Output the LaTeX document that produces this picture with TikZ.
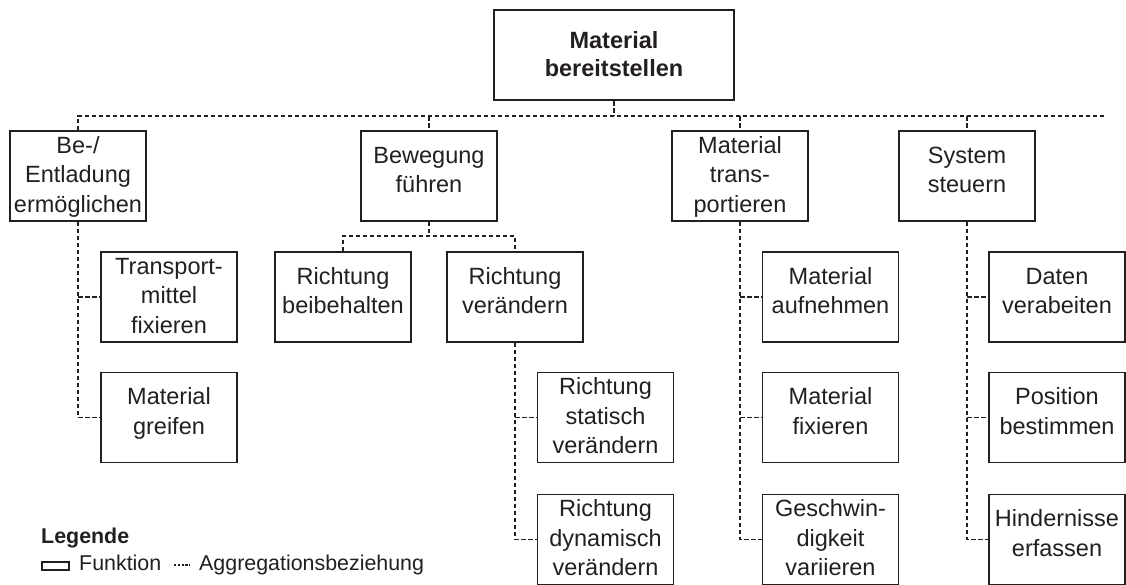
\documentclass[tikz,border=0pt]{standalone}
\usepackage{fontspec}
\setmainfont{Liberation Sans}
\definecolor{ink}{HTML}{231F20}
% text block of a function box: fixed size, text hung from the top;
% the optional argument is the depth of the first baseline below the top edge
\newcommand\boxtext[2][32pt]{\parbox[c][90pt][t]{136pt}{\centering\fontsize{23.5pt}{29.5pt}\selectfont\rule{0pt}{#1}#2\par}}

\begin{document}
\begin{tikzpicture}[x=1pt,y=-1pt,
  fn/.style={draw=ink, line width=1.3pt, inner sep=0pt, text=ink},
  rootfn/.style={draw=ink, line width=2pt, inner sep=0pt, text=ink},
  agg/.style={draw=ink, line width=1.6pt, dash pattern=on 4.6pt off 2.4pt},
  legtext/.style={anchor=base west, inner sep=0pt, text=ink, font=\fontsize{21.4pt}{25pt}\selectfont}]
\useasboundingbox (0,0) rectangle (1126,584);

% main function
\node[rootfn] (root) at (614,55)
  {\parbox[c][90pt][t]{240pt}{\centering\bfseries\fontsize{23.5pt}{28.5pt}\selectfont\rule{0pt}{38pt}Material\\bereitstellen\par}};

% sub-functions, first level
\node[fn] (be)  at (78,176)  {\boxtext[22pt]{Be-/\\Entladung\\ermöglichen}};
\node[fn] (bew) at (429,176) {\boxtext{Bewegung\\führen}};
\node[fn] (mt)  at (740,176) {\boxtext[22pt]{Material\\trans-\\portieren}};
\node[fn] (sys) at (967,176) {\boxtext{System\\steuern}};

% second level
\node[fn] (tr) at (169,297)   {\boxtext[22pt]{Transport-\\mittel\\fixieren}};
\node[fn] (gr) at (169,417.5) {\boxtext{Material\\greifen}};
\node[fn] (rb) at (343,297)   {\boxtext{Richtung\\beibehalten}};
\node[fn] (rv) at (515,297)   {\boxtext{Richtung\\verändern}};
\node[fn] (rs) at (605.5,417.5) {\boxtext[22pt]{Richtung\\statisch\\verändern}};
\node[fn] (rd) at (605.5,539.5) {\boxtext[22pt]{Richtung\\dynamisch\\verändern}};
\node[fn] (ma) at (830.5,297)   {\boxtext{Material\\aufnehmen}};
\node[fn] (mf) at (830.5,417.5) {\boxtext{Material\\fixieren}};
\node[fn] (gv) at (830.5,539.5) {\boxtext[22pt]{Geschwin-\\digkeit\\variieren}};
\node[fn] (dv) at (1057,297)   {\boxtext{Daten\\verabeiten}};
\node[fn] (pb) at (1057,417.5) {\boxtext{Position\\bestimmen}};
\node[fn] (he) at (1057,539.5) {\boxtext{Hindernisse\\erfassen}};

% aggregation bus under the main function
\coordinate (busend) at (1106,116);
\draw[agg] (be.north) |- (busend);
\draw[agg] (root.south) -- (root.south |- busend);
\draw[agg] (bew.north |- busend) -- (bew.north);
\draw[agg] (mt.north |- busend) -- (mt.north);
\draw[agg] (sys.north |- busend) -- (sys.north);

% Be-/Entladung branch
\draw[agg] (be.south) |- (gr.west);
\draw[agg] (be.south |- tr.west) -- (tr.west);

% Bewegung branch
\coordinate (fork) at (429,236);
\draw[agg] (bew.south) -- (fork);
\draw[agg] (rb.north) |- (fork) -| (rv.north);
\draw[agg] (rv.south) |- (rd.west);
\draw[agg] (rv.south |- rs.west) -- (rs.west);

% Material transportieren branch
\draw[agg] (mt.south) |- (gv.west);
\draw[agg] (mt.south |- ma.west) -- (ma.west);
\draw[agg] (mt.south |- mf.west) -- (mf.west);

% System steuern branch
\draw[agg] (sys.south) |- (he.west);
\draw[agg] (sys.south |- dv.west) -- (dv.west);
\draw[agg] (sys.south |- pb.west) -- (pb.west);

% legend
\node[legtext, font=\bfseries\fontsize{21.4pt}{25pt}\selectfont] (legtitle) at (41,543) {Legende};
\node[draw=ink, line width=1.2pt, minimum width=27pt, minimum height=8pt, inner sep=0pt] (legbox) at (55.5,566) {};
\node[legtext] (legfn) at (79,570) {Funktion};
\coordinate (legdashA) at (174,565);
\coordinate (legdashB) at (190,565);
\draw[ink, line width=1.1pt, dash pattern=on 2.2pt off 1.6pt] (legdashA) -- (legdashB);
\node[legtext] (legagg) at (199,570) {Aggregationsbeziehung};
\end{tikzpicture}
\end{document}
